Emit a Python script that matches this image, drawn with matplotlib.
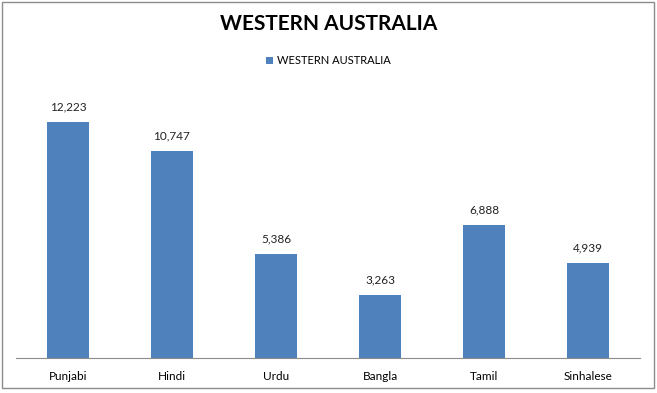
import matplotlib
matplotlib.use("Agg")
import matplotlib.pyplot as plt
from matplotlib.patches import Rectangle

# data
languages = ["Punjabi", "Hindi", "Urdu", "Bangla", "Tamil", "Sinhalese"]
speakers = [12223, 10747, 5386, 3263, 6888, 4939]
series_name = "WESTERN AUSTRALIA"

bar_color = "#4F81BD"
plt.rcParams["font.family"] = ["Lato", "DejaVu Sans"]

fig = plt.figure(figsize=(6.57, 3.93), dpi=100)
ax = fig.add_axes([16 / 657, 35 / 393, 624 / 657, 270 / 393])

x = range(len(languages))
bars = ax.bar(x, speakers, width=0.4, color=bar_color, label=series_name)
ax.set_xlim(-0.5, len(languages) - 0.5)
ax.set_ylim(0, 14000)

for b, v in zip(bars, speakers):
    ax.annotate(f"{v:,}", (b.get_x() + b.get_width() / 2, v),
                xytext=(0, 7), textcoords="offset points",
                ha="center", va="bottom", fontsize=8.5, color="#222222")

ax.set_xticks(list(x))
ax.set_xticklabels(languages, fontsize=8.5)
ax.tick_params(axis="x", length=0, pad=9)
ax.set_yticks([])
for s in ["top", "right", "left"]:
    ax.spines[s].set_visible(False)
ax.spines["bottom"].set_color("#8c8c8c")

fig.text(0.5, 1 - 24 / 393, "WESTERN AUSTRALIA", ha="center", va="center",
         fontsize=15, fontweight="bold")
fig.legend(handles=[bars], labels=[series_name], loc="center",
           bbox_to_anchor=(0.5, 1 - 61 / 393), frameon=False, fontsize=8,
           handlelength=0.6, handleheight=0.6, handletextpad=0.4)

# chart border
fig.patches.append(Rectangle((2 / 657, 5 / 393), 652 / 657, 386 / 393,
                             transform=fig.transFigure, fill=False,
                             edgecolor="#8c8c8c", linewidth=1))

fig.savefig("out.png", dpi=100)
